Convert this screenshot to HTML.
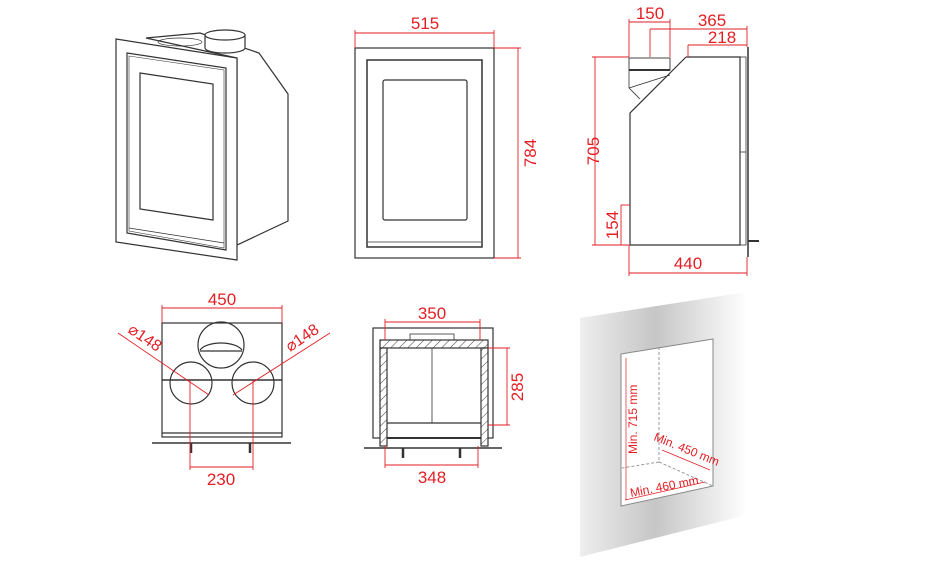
<!DOCTYPE html>
<html><head><meta charset="utf-8"><style>
html,body{margin:0;padding:0;background:#fff}
svg{display:block}
text{font-family:"Liberation Sans",sans-serif;fill:#e31e24}
</style></head><body>
<svg width="950" height="578" viewBox="0 0 950 578" xmlns="http://www.w3.org/2000/svg">
<defs>
<linearGradient id="wg" x1="0" x2="1" y1="0" y2="0">
<stop offset="0" stop-color="#eeeeee"/><stop offset="0.45" stop-color="#c6c6c6"/><stop offset="1" stop-color="#fff"/>
</linearGradient>
<pattern id="hat" width="6" height="6" patternUnits="userSpaceOnUse" patternTransform="rotate(45)">
<rect width="6" height="6" fill="#fff"/><line x1="0" y1="0" x2="0" y2="6" stroke="#444" stroke-width="1"/>
</pattern>
</defs>
<g fill="none" stroke="#333" stroke-width="1.2">
<polygon points="146,38 200,33 259,53 288,94 288,221 237,245 237,58" fill="#fff"/>
<polygon points="116,39 237,58 237,260 116,242" fill="#fff"/>
<polygon points="127,53 226,68 226,250 127,233"/>
<polygon points="129,56 224,70 224,248 129,231" stroke-width="0.6"/>
<polygon points="140,73 213,84 213,220 140,209"/>
<line x1="129" y1="228" x2="224" y2="243" stroke-width="0.8"/>
<path d="M205,35 L205,48 A20,5 0 0 0 245,48 L245,35" fill="#fff"/>
<ellipse cx="225" cy="35" rx="20" ry="5" fill="#fff"/>
<ellipse cx="180" cy="42" rx="22" ry="4" stroke-width="0.7"/>
<rect x="355" y="48" width="139" height="210"/>
<rect x="367" y="60" width="115" height="187" stroke-width="1.5"/>
<rect x="383" y="80" width="84" height="140" rx="2"/>
<line x1="368" y1="242" x2="481" y2="242" stroke-width="0.8"/>
<polyline points="686,57 740,57 740,245 630,245 630,113 686,57"/>
<rect x="629" y="58" width="41" height="12" stroke-width="0.9"/>
<line x1="629" y1="70" x2="670" y2="70" stroke-width="2"/>
<polyline points="629,70 629,88 640,99" stroke-width="0.8"/>
<line x1="629" y1="88" x2="670" y2="75" stroke-width="0.8"/>
<rect x="740" y="57" width="6" height="188" stroke-width="0.8"/>
<line x1="740" y1="152" x2="746" y2="152" stroke-width="0.8"/>
<line x1="748" y1="47" x2="748" y2="257" stroke-width="1.5"/>
<line x1="748" y1="241" x2="759" y2="241" stroke-width="2"/>
<rect x="162" y="323" width="120" height="114"/>
<line x1="162" y1="380" x2="282" y2="380" stroke-width="1.5"/>
<line x1="162" y1="433" x2="282" y2="433"/>
<line x1="152" y1="443" x2="291" y2="443" stroke-width="1.5"/>
<circle cx="191" cy="383" r="21"/>
<circle cx="253" cy="383" r="21"/>
<circle cx="221" cy="345" r="23"/>
<path d="M200,350 A22,10 0 0 1 242,350" />
<line x1="200" y1="351" x2="242" y2="351"/>
<line x1="191" y1="443" x2="191" y2="453" stroke-width="2.5"/>
<line x1="250" y1="443" x2="250" y2="453" stroke-width="2.5"/>
<rect x="373" y="328" width="120" height="110"/>
<rect x="380" y="340" width="108" height="8" fill="url(#hat)"/>
<rect x="380" y="348" width="7" height="98" fill="url(#hat)"/>
<rect x="481" y="348" width="7" height="98" fill="url(#hat)"/>
<line x1="432" y1="348" x2="432" y2="423" stroke-width="0.8"/>
<line x1="387" y1="423" x2="481" y2="423"/>
<line x1="387" y1="438" x2="481" y2="438" stroke-width="2"/>
<line x1="364" y1="448" x2="502" y2="448" stroke-width="1.5"/>
<rect x="410" y="334" width="44" height="6" stroke-width="0.8"/>
<line x1="403" y1="448" x2="403" y2="458" stroke-width="2.5"/>
<line x1="460" y1="448" x2="460" y2="458" stroke-width="2.5"/>
</g>
<polygon points="580,318 747,292 747,515 580,557" fill="url(#wg)"/>
<polygon points="621,354 713,339 713,486 621,506" fill="#fff" stroke="#888" stroke-width="1"/>
<g stroke="#999" stroke-dasharray="3,2" fill="none">
<line x1="659" y1="347" x2="659" y2="462"/>
<line x1="659" y1="462" x2="622" y2="468"/>
<line x1="659" y1="462" x2="713" y2="486"/>
</g>
<g stroke="#e31e24" stroke-width="0.9" fill="none">
<line x1="355" y1="33" x2="494" y2="33"/><line x1="355" y1="30" x2="355" y2="48"/><line x1="494" y1="30" x2="494" y2="48"/>
<line x1="518" y1="48" x2="518" y2="258"/><line x1="494" y1="48" x2="521" y2="48"/><line x1="494" y1="258" x2="521" y2="258"/>
<line x1="629" y1="22" x2="670" y2="22"/><line x1="629" y1="19" x2="629" y2="57"/><line x1="670" y1="19" x2="670" y2="57"/>
<line x1="650" y1="29" x2="747" y2="29"/><line x1="650" y1="29" x2="650" y2="57"/><line x1="747" y1="26" x2="747" y2="47"/>
<line x1="688" y1="45" x2="747" y2="45"/><line x1="688" y1="45" x2="688" y2="57"/>
<line x1="595" y1="57" x2="595" y2="245"/><line x1="592" y1="57" x2="629" y2="57"/><line x1="592" y1="245" x2="629" y2="245"/>
<line x1="621" y1="205" x2="621" y2="245"/><line x1="621" y1="205" x2="630" y2="205"/>
<line x1="629" y1="273" x2="747" y2="273"/><line x1="629" y1="245" x2="629" y2="276"/><line x1="747" y1="257" x2="747" y2="276"/>
<line x1="162" y1="308" x2="282" y2="308"/><line x1="162" y1="305" x2="162" y2="323"/><line x1="282" y1="305" x2="282" y2="323"/>
<line x1="190" y1="467" x2="253" y2="467"/><line x1="190" y1="380" x2="190" y2="470"/><line x1="253" y1="380" x2="253" y2="470"/>
<line x1="118" y1="333" x2="209" y2="395"/><line x1="330" y1="333" x2="233" y2="395"/>
<line x1="385" y1="322" x2="480" y2="322"/><line x1="385" y1="319" x2="385" y2="340"/><line x1="480" y1="319" x2="480" y2="340"/>
<line x1="507" y1="348" x2="507" y2="425"/><line x1="488" y1="348" x2="510" y2="348"/><line x1="488" y1="425" x2="510" y2="425"/>
<line x1="385" y1="465" x2="478" y2="465"/><line x1="385" y1="446" x2="385" y2="468"/><line x1="478" y1="446" x2="478" y2="468"/>
<line x1="626" y1="358" x2="626" y2="500" stroke-width="0.7"/>
<line x1="625" y1="500" x2="705" y2="482" stroke-width="0.7"/>
<line x1="662" y1="450" x2="710" y2="470" stroke-width="0.7"/>
</g>
<g font-size="17" text-anchor="middle">
<text x="425" y="29">515</text>
<text transform="translate(536,153) rotate(-90)">784</text>
<text x="650" y="19">150</text>
<text x="712" y="26">365</text>
<text x="722" y="43">218</text>
<text transform="translate(599,151) rotate(-90)">705</text>
<text transform="translate(618,225) rotate(-90)">154</text>
<text x="688" y="269">440</text>
<text x="222" y="305">450</text>
<text x="221" y="485">230</text>
<text x="432" y="319">350</text>
<text transform="translate(523,387) rotate(-90)">285</text>
<text x="432" y="483">348</text>
<text transform="translate(142,342) rotate(34)" font-size="16">⌀148</text>
<text transform="translate(305,342) rotate(-34)" font-size="16">⌀148</text>
</g>
<g font-size="12">
<text transform="translate(637,454) rotate(-90)">Min. 715 mm</text>
<text transform="translate(653,440) rotate(22)">Min. 450 mm</text>
<text transform="translate(631,497) rotate(-11)">Min. 460 mm</text>
</g>
</svg>
</body></html>
